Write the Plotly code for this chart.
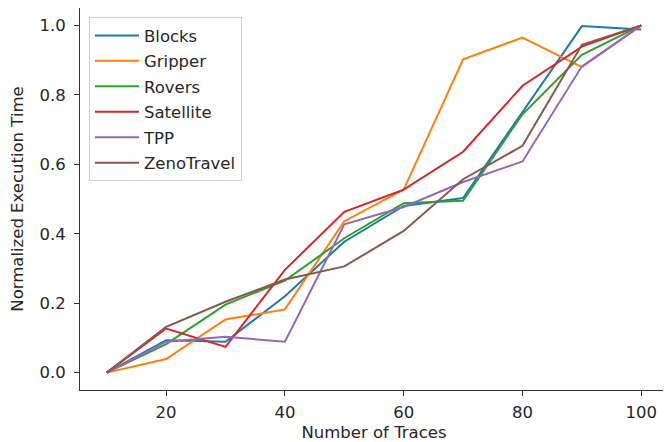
import plotly.graph_objects as go

traces_x = [10, 20, 30, 40, 50, 60, 70, 80, 90, 100]
blocks = [0.0, 0.093, 0.089, 0.22, 0.377, 0.48, 0.503, 0.749, 0.998, 0.988]
gripper = [0.0, 0.039, 0.153, 0.182, 0.436, 0.527, 0.902, 0.965, 0.88, 1.0]
rovers = [0.0, 0.082, 0.196, 0.265, 0.387, 0.488, 0.495, 0.744, 0.915, 1.0]
satellite = [0.0, 0.127, 0.074, 0.296, 0.463, 0.527, 0.636, 0.826, 0.939, 1.0]
tpp = [0.0, 0.089, 0.103, 0.089, 0.427, 0.477, 0.549, 0.608, 0.882, 1.0]
zenotravel = [0.0, 0.132, 0.204, 0.268, 0.306, 0.408, 0.557, 0.653, 0.944, 1.0]

names = ["Blocks", "Gripper", "Rovers", "Satellite", "TPP", "ZenoTravel"]
series = [blocks, gripper, rovers, satellite, tpp, zenotravel]
colors = ["#1f77b4", "#ff7f0e", "#2ca02c", "#d62728", "#9467bd", "#8c564b"]

fig = go.Figure()
for n, s, c in zip(names, series, colors):
    fig.add_trace(go.Scatter(x=traces_x, y=s, mode="lines", name=n, legendgroup=n,
                             line=dict(color=c, width=2)))

fam = "DejaVu Sans"
txt = "#262626"
fs = 16.5
# the page has an 8px body margin, so the figure is sized to fit inside the window
fig.update_layout(
    width=663, height=434,
    margin=dict(l=72, r=3, t=0, b=52),
    paper_bgcolor="white", plot_bgcolor="white",
    font=dict(family=fam, size=fs, color=txt),
    showlegend=True,
    legend=dict(x=0.0153, y=0.976, xanchor="left", yanchor="top",
                bgcolor="rgba(255,255,255,0.8)", bordercolor="#d0d0d0", borderwidth=1,
                tracegroupgap=1, itemwidth=44,
                font=dict(family=fam, size=fs, color=txt)),
    xaxis=dict(range=[5.5, 104.5], tickvals=[20, 40, 60, 80, 100], ticks="outside",
               ticklen=5, tickcolor="#333", showline=True, linecolor="#333", linewidth=1,
               mirror=True, showgrid=False, zeroline=False, automargin=False,
               tickfont=dict(family=fam, size=fs, color=txt), ticklabelstandoff=2,
               title=dict(text="Number of Traces", standoff=5,
                          font=dict(family=fam, size=fs, color=txt))),
    yaxis=dict(range=[-0.05, 1.05], tickvals=[0, 0.2, 0.4, 0.6, 0.8, 1.0], tickformat=".1f",
               ticks="outside", ticklen=5, tickcolor="#333", showline=True, linecolor="#333",
               linewidth=1, mirror=True, showgrid=False, zeroline=False, automargin=False,
               tickfont=dict(family=fam, size=fs, color=txt), ticklabelstandoff=5,
               title=dict(text="Normalized Execution Time", standoff=11,
                          font=dict(family=fam, size=fs, color=txt))),
)
fig.write_html("out.html")
